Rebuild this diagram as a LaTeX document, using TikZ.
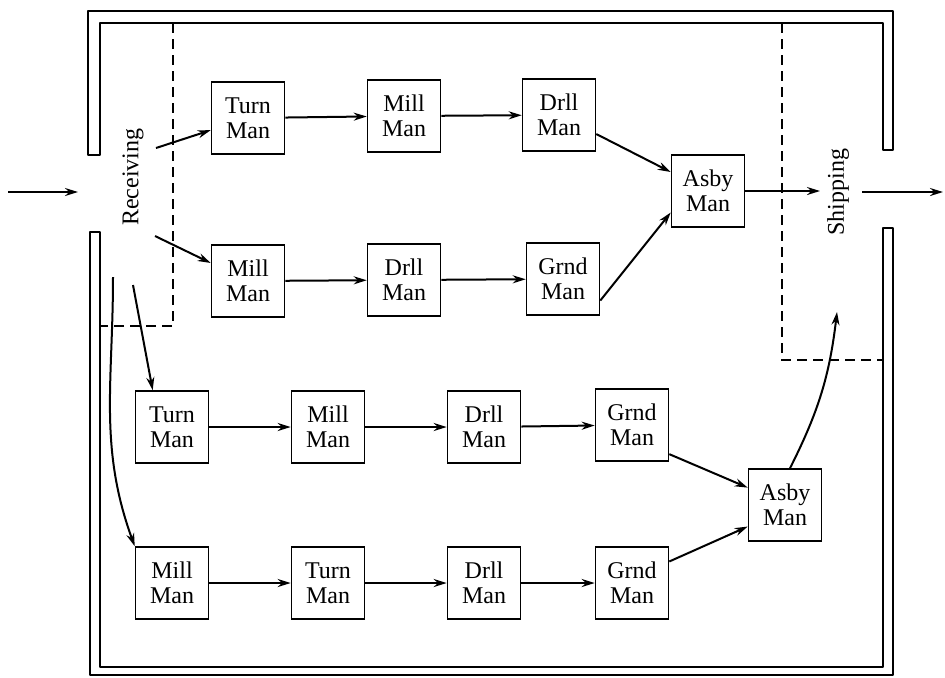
\documentclass[tikz,border=0pt]{standalone}
\usepackage{fontspec}
\setmainfont{Liberation Serif}
\usetikzlibrary{arrows.meta, positioning}

\begin{document}
\begin{tikzpicture}[
    x=0.5pt, y=-0.5pt,
    station/.style={rectangle, draw, line width=0.8pt, minimum width=36.5pt, minimum height=36pt, inner sep=1pt, align=center, font=\fontsize{12}{12.5}\selectfont},
    area/.style={font=\fontsize{12}{12}\selectfont, inner sep=1pt},
    arrow/.style={-{Stealth[length=6.5pt, width=4pt]}, line width=1pt},
    wall/.style={line width=0.6pt, line join=round},
    zone/.style={dash pattern=on 5pt off 3pt, line width=0.6pt}
]
\useasboundingbox (0,0) rectangle (945,677);

% building walls
\draw[wall] (100,155) -- (100,23) -- (883,23) -- (883,150) -- (893,150) -- (893,11) -- (88,11) -- (88,155) -- cycle;
\draw[wall] (90,232) -- (90,675) -- (893,675) -- (893,228) -- (883,228) -- (883,667) -- (100,667) -- (100,232) -- cycle;

% receiving and shipping areas
\draw[zone] (173,23) -- (173,326) -- (100,326);
\draw[zone] (782,23) -- (782,360) -- (883,360);
\node[area, rotate=90] (receiving) at (133,177) {Receiving};
\node[area, rotate=90] (shipping) at (838,192) {Shipping};

% upper line
\node[station] (turnA) at (248,118) {Turn\\Man};
\node[station] (millA) at (404,116) {Mill\\Man};
\node[station] (drllA) at (559,115) {Drll\\Man};
\node[station] (millB) at (248,281) {Mill\\Man};
\node[station] (drllB) at (404,280) {Drll\\Man};
\node[station] (grndB) at (563,279) {Grnd\\Man};
\node[station] (asbyA) at (708,191) {Asby\\Man};

% lower line
\node[station] (turnC) at (172,427) {Turn\\Man};
\node[station] (millC) at (328,427) {Mill\\Man};
\node[station] (drllC) at (484,427) {Drll\\Man};
\node[station] (grndC) at (632,425) {Grnd\\Man};
\node[station] (millD) at (172,583) {Mill\\Man};
\node[station] (turnD) at (328,583) {Turn\\Man};
\node[station] (drllD) at (484,583) {Drll\\Man};
\node[station] (grndD) at (632,583) {Grnd\\Man};
\node[station] (asbyB) at (785,505) {Asby\\Man};

% free ends
\coordinate (inlet) at (8,192);
\coordinate (entry) at (78,192);
\coordinate (recvA) at (156,148);
\coordinate (recvB) at (155,236);
\coordinate (recvC) at (133,285);
\coordinate (recvD) at (113,277);
\coordinate (shipA) at (820,191);
\coordinate (shipB) at (837,312);
\coordinate (exit) at (862,192);
\coordinate (outlet) at (943,192);

\draw[arrow] (inlet) -- (entry);
\draw[arrow] (recvA) -- (turnA);
\draw[arrow] (recvB) -- (millB);
\draw[arrow] (recvC) -- ([xshift=9pt]turnC.north west);
\draw[arrow] (recvD) to[out=-90, in=110] (millD.north west);

\draw[arrow] (turnA) -- (millA);
\draw[arrow] (millA) -- (drllA);
\draw[arrow] (drllA) -- (asbyA);
\draw[arrow] (millB) -- (drllB);
\draw[arrow] (drllB) -- (grndB);
\draw[arrow] (grndB.-30) -- (asbyA.210);
\draw[arrow] (asbyA) -- (shipA);
\draw[arrow] (exit) -- (outlet);

\draw[arrow] (turnC) -- (millC);
\draw[arrow] (millC) -- (drllC);
\draw[arrow] (drllC) -- (grndC);
\draw[arrow] (grndC.-38) -- (asbyB.155);
\draw[arrow] (millD) -- (turnD);
\draw[arrow] (turnD) -- (drllD);
\draw[arrow] (drllD) -- (grndD);
\draw[arrow] (grndD.30) -- (asbyB.210);
\draw[arrow] ([xshift=2.5pt]asbyB.north) to[bend right=10] (shipB);

\end{tikzpicture}
\end{document}
